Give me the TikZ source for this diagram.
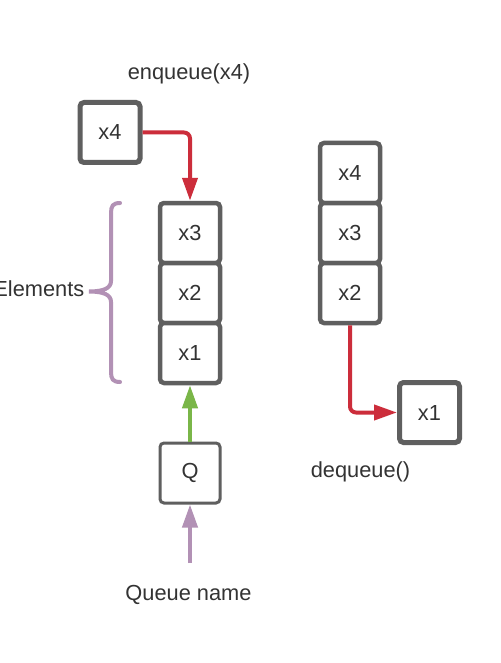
\documentclass[tikz,border=0pt]{standalone}
\usepackage{fontspec}
\setmainfont{Liberation Sans}
\usetikzlibrary{arrows.meta}
\definecolor{boxgray}{HTML}{5F5F5F}
\definecolor{txt}{HTML}{333333}
\definecolor{qred}{HTML}{CC2D3B}
\definecolor{qgreen}{HTML}{7AB648}
\definecolor{qpurple}{HTML}{B291B5}
\begin{document}
\begin{tikzpicture}[x=1pt,y=-1pt,
  every node/.style={font=\fontsize{21.8}{26}\selectfont, text=txt},
  elem/.style={draw=boxgray, line width=4.5pt, rounded corners=4pt, fill=white,
    minimum width=60pt, minimum height=60pt, inner sep=0pt},
  qbox/.style={elem, line width=3pt},
  lbl/.style={anchor=base, inner sep=0pt},
  conn/.style={line width=4pt, -{Triangle[length=23pt,width=15pt]}},
]
\useasboundingbox (0,0) rectangle (500,663);
\fill[white] (0,0) rectangle (500,663);

% labels
\node[lbl] (enq) at (189,80) {enqueue(x4)};
\node[lbl] (qname) at (188.5,600) {Queue name};
\node[lbl] (deq) at (360.5,477.5) {dequeue()};
\node[anchor=base east, inner sep=0pt] (elems) at (84.5,296.5) {Elements};

% left queue
\node[elem, line width=5pt] (nx4) at (110,132.5) {x4};
\node[elem] (lx3) at (190,233) {x3};
\node[elem] (lx2) at (190,293) {x2};
\node[elem] (lx1) at (190,353) {x1};
\node[qbox] (q) at (190,473) {Q};

% right queue
\node[elem] (rx4) at (350,173) {x4};
\node[elem] (rx3) at (350,233) {x3};
\node[elem] (rx2) at (350,293) {x2};
\node[elem, line width=5pt] (rx1) at (429.5,412.5) {x1};

% brace
\draw[qpurple, line width=4pt, line cap=round]
  (120,203) .. controls (113,203) and (111,206) .. (111,213) -- (111,281)
  .. controls (111,288) and (104,291.5) .. (89,291.5)
  .. controls (104,291.5) and (111,295) .. (111,302) -- (111,372)
  .. controls (111,379) and (113,382) .. (120,382);

% connectors
\draw[conn, qred, rounded corners=6pt] (nx4.east) -| (lx3.north);
\draw[conn, qgreen] (q.north) -- (lx1.south);
\coordinate (qn) at (190,563);
\draw[conn, qpurple] (qn) -- (q.south);
\draw[conn, qred, rounded corners=6pt] (rx2.south) |- (rx1.west);
\end{tikzpicture}
\end{document}
